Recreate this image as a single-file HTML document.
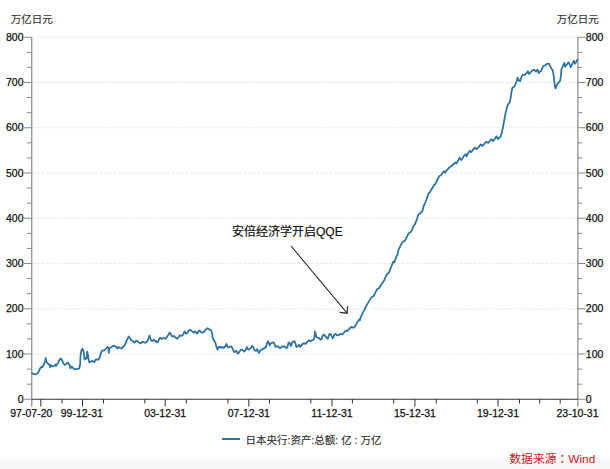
<!DOCTYPE html>
<html><head><meta charset="utf-8"><style>
html,body{margin:0;padding:0;background:#fff;}
body{width:610px;height:469px;overflow:hidden;position:relative;}
.bg{position:absolute;left:0;top:0;width:610px;height:469px;background:linear-gradient(to bottom,#fff 0,#fff 455px,#fafafa 457.5px,#f7f7f7 469px);}
svg{position:absolute;left:0;top:0;}
.ax{font-family:"Liberation Sans", "Noto Sans CJK SC", sans-serif;font-size:10.5px;fill:#111;stroke:#111;stroke-width:0.25px;}
.ttl{font-family:"Liberation Sans", "Noto Sans CJK SC", sans-serif;font-size:10.5px;fill:#333;stroke:#333;stroke-width:0.15px;}
.ann{font-family:"Liberation Sans", "Noto Sans CJK SC", sans-serif;font-size:12px;fill:#111;stroke:#111;stroke-width:0.2px;}
.leg{font-family:"Liberation Sans", "Noto Sans CJK SC", sans-serif;font-size:10.5px;fill:#2a2a2a;stroke:#2a2a2a;stroke-width:0.12px;}
.src{font-family:"Liberation Sans", "Noto Sans CJK SC", sans-serif;font-size:11.8px;fill:#c8161e;}
.tc{font-family:"Noto Sans CJK TC", sans-serif;}
</style></head><body><div class="bg"></div>
<svg width="610" height="469" viewBox="0 0 610 469">
<line x1="32.25" y1="354.00" x2="577.4" y2="354.00" stroke="#e8e8e8" stroke-width="1" stroke-dasharray="3 1.5"/>
<line x1="32.25" y1="308.75" x2="577.4" y2="308.75" stroke="#e8e8e8" stroke-width="1" stroke-dasharray="3 1.5"/>
<line x1="32.25" y1="263.50" x2="577.4" y2="263.50" stroke="#e8e8e8" stroke-width="1" stroke-dasharray="3 1.5"/>
<line x1="32.25" y1="218.25" x2="577.4" y2="218.25" stroke="#e8e8e8" stroke-width="1" stroke-dasharray="3 1.5"/>
<line x1="32.25" y1="173.00" x2="577.4" y2="173.00" stroke="#e8e8e8" stroke-width="1" stroke-dasharray="3 1.5"/>
<line x1="32.25" y1="127.75" x2="577.4" y2="127.75" stroke="#e8e8e8" stroke-width="1" stroke-dasharray="3 1.5"/>
<line x1="32.25" y1="82.50" x2="577.4" y2="82.50" stroke="#e8e8e8" stroke-width="1" stroke-dasharray="3 1.5"/>
<line x1="32.25" y1="37.25" x2="577.4" y2="37.25" stroke="#e8e8e8" stroke-width="1" stroke-dasharray="3 1.5"/>
<line x1="31.75" y1="37.25" x2="31.75" y2="406.5" stroke="#888" stroke-width="1.2"/>
<line x1="577.9" y1="37.25" x2="577.9" y2="406.5" stroke="#888" stroke-width="1.2"/>
<line x1="24" y1="399.25" x2="31.75" y2="399.25" stroke="#888" stroke-width="1"/>
<line x1="577.9" y1="399.25" x2="585.5" y2="399.25" stroke="#888" stroke-width="1"/>
<line x1="27" y1="384.17" x2="31.75" y2="384.17" stroke="#888" stroke-width="1"/>
<line x1="577.9" y1="384.17" x2="582.3" y2="384.17" stroke="#888" stroke-width="1"/>
<line x1="27" y1="369.08" x2="31.75" y2="369.08" stroke="#888" stroke-width="1"/>
<line x1="577.9" y1="369.08" x2="582.3" y2="369.08" stroke="#888" stroke-width="1"/>
<line x1="24" y1="354.00" x2="31.75" y2="354.00" stroke="#888" stroke-width="1"/>
<line x1="577.9" y1="354.00" x2="585.5" y2="354.00" stroke="#888" stroke-width="1"/>
<line x1="27" y1="338.92" x2="31.75" y2="338.92" stroke="#888" stroke-width="1"/>
<line x1="577.9" y1="338.92" x2="582.3" y2="338.92" stroke="#888" stroke-width="1"/>
<line x1="27" y1="323.83" x2="31.75" y2="323.83" stroke="#888" stroke-width="1"/>
<line x1="577.9" y1="323.83" x2="582.3" y2="323.83" stroke="#888" stroke-width="1"/>
<line x1="24" y1="308.75" x2="31.75" y2="308.75" stroke="#888" stroke-width="1"/>
<line x1="577.9" y1="308.75" x2="585.5" y2="308.75" stroke="#888" stroke-width="1"/>
<line x1="27" y1="293.67" x2="31.75" y2="293.67" stroke="#888" stroke-width="1"/>
<line x1="577.9" y1="293.67" x2="582.3" y2="293.67" stroke="#888" stroke-width="1"/>
<line x1="27" y1="278.58" x2="31.75" y2="278.58" stroke="#888" stroke-width="1"/>
<line x1="577.9" y1="278.58" x2="582.3" y2="278.58" stroke="#888" stroke-width="1"/>
<line x1="24" y1="263.50" x2="31.75" y2="263.50" stroke="#888" stroke-width="1"/>
<line x1="577.9" y1="263.50" x2="585.5" y2="263.50" stroke="#888" stroke-width="1"/>
<line x1="27" y1="248.42" x2="31.75" y2="248.42" stroke="#888" stroke-width="1"/>
<line x1="577.9" y1="248.42" x2="582.3" y2="248.42" stroke="#888" stroke-width="1"/>
<line x1="27" y1="233.33" x2="31.75" y2="233.33" stroke="#888" stroke-width="1"/>
<line x1="577.9" y1="233.33" x2="582.3" y2="233.33" stroke="#888" stroke-width="1"/>
<line x1="24" y1="218.25" x2="31.75" y2="218.25" stroke="#888" stroke-width="1"/>
<line x1="577.9" y1="218.25" x2="585.5" y2="218.25" stroke="#888" stroke-width="1"/>
<line x1="27" y1="203.17" x2="31.75" y2="203.17" stroke="#888" stroke-width="1"/>
<line x1="577.9" y1="203.17" x2="582.3" y2="203.17" stroke="#888" stroke-width="1"/>
<line x1="27" y1="188.08" x2="31.75" y2="188.08" stroke="#888" stroke-width="1"/>
<line x1="577.9" y1="188.08" x2="582.3" y2="188.08" stroke="#888" stroke-width="1"/>
<line x1="24" y1="173.00" x2="31.75" y2="173.00" stroke="#888" stroke-width="1"/>
<line x1="577.9" y1="173.00" x2="585.5" y2="173.00" stroke="#888" stroke-width="1"/>
<line x1="27" y1="157.92" x2="31.75" y2="157.92" stroke="#888" stroke-width="1"/>
<line x1="577.9" y1="157.92" x2="582.3" y2="157.92" stroke="#888" stroke-width="1"/>
<line x1="27" y1="142.83" x2="31.75" y2="142.83" stroke="#888" stroke-width="1"/>
<line x1="577.9" y1="142.83" x2="582.3" y2="142.83" stroke="#888" stroke-width="1"/>
<line x1="24" y1="127.75" x2="31.75" y2="127.75" stroke="#888" stroke-width="1"/>
<line x1="577.9" y1="127.75" x2="585.5" y2="127.75" stroke="#888" stroke-width="1"/>
<line x1="27" y1="112.67" x2="31.75" y2="112.67" stroke="#888" stroke-width="1"/>
<line x1="577.9" y1="112.67" x2="582.3" y2="112.67" stroke="#888" stroke-width="1"/>
<line x1="27" y1="97.58" x2="31.75" y2="97.58" stroke="#888" stroke-width="1"/>
<line x1="577.9" y1="97.58" x2="582.3" y2="97.58" stroke="#888" stroke-width="1"/>
<line x1="24" y1="82.50" x2="31.75" y2="82.50" stroke="#888" stroke-width="1"/>
<line x1="577.9" y1="82.50" x2="585.5" y2="82.50" stroke="#888" stroke-width="1"/>
<line x1="27" y1="67.42" x2="31.75" y2="67.42" stroke="#888" stroke-width="1"/>
<line x1="577.9" y1="67.42" x2="582.3" y2="67.42" stroke="#888" stroke-width="1"/>
<line x1="27" y1="52.33" x2="31.75" y2="52.33" stroke="#888" stroke-width="1"/>
<line x1="577.9" y1="52.33" x2="582.3" y2="52.33" stroke="#888" stroke-width="1"/>
<line x1="24" y1="37.25" x2="31.75" y2="37.25" stroke="#888" stroke-width="1"/>
<line x1="577.9" y1="37.25" x2="585.5" y2="37.25" stroke="#888" stroke-width="1"/>
<text x="23.5" y="402.95" text-anchor="end" class="ax">0</text>
<text x="585.8" y="402.95" text-anchor="start" class="ax">0</text>
<text x="23.5" y="357.70" text-anchor="end" class="ax">100</text>
<text x="585.8" y="357.70" text-anchor="start" class="ax">100</text>
<text x="23.5" y="312.45" text-anchor="end" class="ax">200</text>
<text x="585.8" y="312.45" text-anchor="start" class="ax">200</text>
<text x="23.5" y="267.20" text-anchor="end" class="ax">300</text>
<text x="585.8" y="267.20" text-anchor="start" class="ax">300</text>
<text x="23.5" y="221.95" text-anchor="end" class="ax">400</text>
<text x="585.8" y="221.95" text-anchor="start" class="ax">400</text>
<text x="23.5" y="176.70" text-anchor="end" class="ax">500</text>
<text x="585.8" y="176.70" text-anchor="start" class="ax">500</text>
<text x="23.5" y="131.45" text-anchor="end" class="ax">600</text>
<text x="585.8" y="131.45" text-anchor="start" class="ax">600</text>
<text x="23.5" y="86.20" text-anchor="end" class="ax">700</text>
<text x="585.8" y="86.20" text-anchor="start" class="ax">700</text>
<text x="23.5" y="40.95" text-anchor="end" class="ax">800</text>
<text x="585.8" y="40.95" text-anchor="start" class="ax">800</text>
<line x1="31.75" y1="399.25" x2="577.9" y2="399.25" stroke="#333" stroke-width="1"/>
<line x1="40.8" y1="399.25" x2="40.8" y2="406.5" stroke="#333" stroke-width="1"/>
<line x1="82.5" y1="399.25" x2="82.5" y2="406.5" stroke="#333" stroke-width="1"/>
<line x1="165.2" y1="399.25" x2="165.2" y2="406.5" stroke="#333" stroke-width="1"/>
<line x1="248.8" y1="399.25" x2="248.8" y2="406.5" stroke="#333" stroke-width="1"/>
<line x1="332.0" y1="399.25" x2="332.0" y2="406.5" stroke="#333" stroke-width="1"/>
<line x1="414.9" y1="399.25" x2="414.9" y2="406.5" stroke="#333" stroke-width="1"/>
<line x1="498.0" y1="399.25" x2="498.0" y2="406.5" stroke="#333" stroke-width="1"/>
<line x1="62" y1="399.25" x2="62" y2="403.5" stroke="#333" stroke-width="1"/>
<line x1="103.5" y1="399.25" x2="103.5" y2="403.5" stroke="#333" stroke-width="1"/>
<line x1="144.8" y1="399.25" x2="144.8" y2="403.5" stroke="#333" stroke-width="1"/>
<line x1="186.4" y1="399.25" x2="186.4" y2="403.5" stroke="#333" stroke-width="1"/>
<line x1="227.9" y1="399.25" x2="227.9" y2="403.5" stroke="#333" stroke-width="1"/>
<line x1="269.5" y1="399.25" x2="269.5" y2="403.5" stroke="#333" stroke-width="1"/>
<line x1="310.8" y1="399.25" x2="310.8" y2="403.5" stroke="#333" stroke-width="1"/>
<line x1="352.4" y1="399.25" x2="352.4" y2="403.5" stroke="#333" stroke-width="1"/>
<line x1="393.7" y1="399.25" x2="393.7" y2="403.5" stroke="#333" stroke-width="1"/>
<line x1="436.3" y1="399.25" x2="436.3" y2="403.5" stroke="#333" stroke-width="1"/>
<line x1="477.4" y1="399.25" x2="477.4" y2="403.5" stroke="#333" stroke-width="1"/>
<line x1="519.5" y1="399.25" x2="519.5" y2="403.5" stroke="#333" stroke-width="1"/>
<line x1="539.6" y1="399.25" x2="539.6" y2="403.5" stroke="#333" stroke-width="1"/>
<line x1="560.2" y1="399.25" x2="560.2" y2="403.5" stroke="#333" stroke-width="1"/>
<text x="31.3" y="416.7" text-anchor="middle" class="ax">97-07-20</text>
<text x="81.8" y="416.7" text-anchor="middle" class="ax">99-12-31</text>
<text x="165.2" y="416.7" text-anchor="middle" class="ax">03-12-31</text>
<text x="248.8" y="416.7" text-anchor="middle" class="ax">07-12-31</text>
<text x="332.0" y="416.7" text-anchor="middle" class="ax">11-12-31</text>
<text x="414.9" y="416.7" text-anchor="middle" class="ax">15-12-31</text>
<text x="498.0" y="416.7" text-anchor="middle" class="ax">19-12-31</text>
<text x="577.5" y="416.7" text-anchor="middle" class="ax">23-10-31</text>
<path d="M32.0,373.3 L33.4,373.8 L34.9,374.3 L36.4,374.1 L37.4,373.3 L38.4,372.2 L39.3,370.4 L40.3,367.9 L41.3,367.0 L42.3,367.4 L43.3,365.5 L44.3,363.5 L45.2,361.0 L45.7,357.8 L46.2,361.0 L47.2,363.0 L48.7,364.0 L49.7,365.5 L50.2,367.4 L50.6,365.0 L51.6,366.0 L53.1,366.3 L54.6,365.5 L55.6,364.5 L56.1,366.0 L57.0,364.0 L58.0,363.5 L59.0,360.6 L60.5,358.6 L61.5,359.1 L62.4,361.0 L63.4,363.5 L64.9,364.9 L65.9,364.5 L66.9,363.0 L67.9,362.5 L68.8,364.0 L69.8,365.5 L70.5,368.4 L71.3,366.5 L72.3,367.0 L73.8,369.0 L74.7,369.4 L76.2,368.9 L78.2,368.9 L79.2,368.4 L80.1,364.5 L80.6,354.7 L81.6,349.7 L82.6,348.8 L83.6,351.7 L84.6,359.6 L85.6,358.1 L86.5,358.6 L87.2,351.7 L88.1,355.4 L88.9,361.8 L89.9,362.3 L91.4,361.1 L92.4,360.8 L93.4,361.8 L94.3,362.1 L95.3,359.8 L96.8,359.3 L98.3,359.8 L99.7,357.4 L100.7,353.9 L101.7,351.0 L102.7,350.5 L103.7,350.7 L105.2,349.5 L106.6,348.0 L107.6,346.7 L108.4,348.0 L108.8,352.9 L109.2,348.5 L110.1,348.0 L111.5,347.0 L113.0,346.0 L114.5,346.0 L116.0,346.5 L117.3,348.5 L118.4,347.0 L119.9,348.0 L121.4,348.5 L122.9,347.0 L124.3,345.6 L125.3,344.1 L126.3,341.6 L127.8,338.2 L128.8,336.5 L129.7,337.5 L131.2,340.2 L132.7,341.1 L134.2,342.6 L135.1,342.1 L136.3,340.6 L137.6,341.1 L139.1,342.6 L140.1,343.4 L141.5,342.6 L143.0,341.7 L144.4,342.5 L145.9,342.7 L147.4,341.1 L148.4,338.6 L149.5,335.5 L150.3,338.1 L151.3,340.8 L152.8,340.8 L153.8,339.6 L154.7,340.8 L155.5,341.5 L156.2,341.1 L157.2,342.3 L158.2,341.5 L159.2,338.6 L160.2,337.8 L161.6,339.1 L163.1,338.1 L164.4,338.1 L165.4,338.8 L166.5,337.6 L167.5,336.1 L168.5,334.7 L169.7,332.5 L170.5,333.7 L171.5,335.6 L172.4,336.6 L173.9,336.1 L174.9,336.8 L176.4,338.4 L177.4,338.6 L178.5,337.4 L179.8,335.2 L180.8,335.8 L182.3,335.6 L183.3,334.2 L184.7,331.5 L185.7,333.2 L186.7,333.7 L187.7,332.5 L188.7,330.5 L190.1,329.7 L191.1,330.7 L192.6,331.9 L194.1,332.5 L195.1,331.5 L196.0,332.2 L197.0,333.5 L198.0,332.5 L198.9,330.7 L199.9,330.7 L200.9,332.2 L202.4,332.7 L203.7,332.2 L204.8,330.7 L206.0,329.3 L207.3,328.3 L208.3,328.6 L209.3,329.7 L209.9,329.6 L210.7,330.0 L211.5,331.2 L212.2,334.2 L212.7,337.6 L213.7,340.1 L214.7,341.4 L215.6,343.5 L216.6,347.4 L217.6,349.6 L218.6,347.0 L220.1,347.0 L221.4,347.9 L222.5,347.0 L223.5,347.9 L224.5,347.4 L225.7,345.5 L226.5,344.0 L227.3,346.5 L228.4,347.4 L229.9,346.7 L231.4,346.3 L232.4,348.4 L233.5,350.9 L234.3,352.2 L235.3,351.4 L236.3,350.6 L237.3,352.9 L238.3,353.5 L239.2,351.9 L240.2,350.4 L241.7,349.4 L243.2,350.6 L244.2,351.6 L245.1,350.4 L246.1,348.9 L246.9,347.0 L247.6,348.9 L248.6,349.6 L249.6,348.9 L250.6,348.2 L251.5,347.0 L252.3,345.9 L253.1,346.8 L253.9,348.9 L254.9,350.4 L256.1,350.9 L257.1,349.2 L258.1,351.4 L258.8,352.9 L259.8,351.4 L260.8,349.9 L262.3,349.4 L263.8,348.4 L264.7,347.4 L265.5,347.9 L266.7,344.5 L267.9,341.1 L268.7,342.5 L269.7,345.5 L270.6,343.5 L272.1,342.7 L273.6,342.5 L274.6,344.5 L275.6,347.0 L277.0,346.3 L278.5,346.5 L280.0,348.4 L281.0,347.4 L282.3,346.3 L283.4,346.7 L284.9,346.5 L286.4,348.2 L287.4,347.0 L288.3,343.5 L289.3,342.5 L290.3,344.5 L291.1,346.0 L292.1,342.5 L293.3,341.5 L294.7,341.4 L295.7,344.5 L296.4,347.0 L297.7,346.3 L299.2,345.0 L300.3,347.0 L301.6,345.0 L303.1,343.5 L304.6,343.3 L305.9,343.8 L307.0,342.3 L308.4,340.8 L309.4,340.3 L310.4,341.3 L311.9,340.3 L313.4,339.8 L314.3,338.3 L315.0,331.5 L315.6,333.4 L316.3,336.9 L317.3,337.6 L318.8,337.9 L319.7,338.8 L320.7,339.8 L321.7,338.8 L322.7,335.9 L323.7,334.4 L324.7,335.4 L325.6,336.4 L326.8,337.9 L327.8,338.8 L328.6,335.9 L329.6,333.9 L330.8,334.4 L331.7,336.4 L332.7,338.3 L333.7,336.4 L334.5,334.4 L335.7,333.9 L337.0,335.4 L338.4,335.2 L339.9,334.4 L340.9,333.9 L342.4,334.4 L343.8,332.9 L345.3,331.0 L346.3,330.5 L347.3,331.0 L348.3,330.0 L349.7,328.5 L350.7,327.5 L351.7,326.7 L353.2,327.7 L354.2,327.5 L355.1,325.8 L356.1,324.6 L357.1,322.6 L358.1,321.1 L359.1,319.5 L359.9,320.2 L360.6,317.7 L361.5,315.7 L362.4,313.6 L364.0,310.4 L366.4,305.6 L368.8,301.6 L371.2,297.6 L373.6,296.0 L375.2,292.8 L376.8,289.6 L379.2,288.0 L381.6,284.0 L384.0,280.8 L385.6,276.8 L387.2,273.9 L388.8,272.8 L390.4,268.8 L392.0,264.8 L393.3,261.6 L394.4,262.1 L396.0,257.6 L397.6,254.4 L398.6,249.6 L401.3,244.2 L403.1,241.5 L405.0,240.6 L406.8,237.0 L408.6,233.3 L411.3,231.5 L413.1,227.0 L414.9,224.3 L416.7,219.8 L418.5,214.3 L420.3,213.4 L422.5,210.7 L423.6,206.2 L424.9,203.5 L426.7,199.0 L428.5,193.5 L430.3,191.7 L431.2,189.5 L432.2,188.5 L433.7,185.5 L435.2,184.0 L436.7,181.0 L438.2,178.0 L439.7,175.8 L441.2,175.1 L442.7,172.5 L444.2,171.3 L445.2,172.8 L446.4,170.6 L447.9,169.1 L449.4,167.3 L450.9,166.5 L452.4,165.0 L453.9,164.1 L455.4,162.4 L456.6,163.5 L458.1,160.6 L459.6,157.6 L461.1,160.1 L462.6,158.2 L464.1,155.6 L465.6,154.1 L466.6,156.4 L468.1,153.4 L469.6,150.7 L471.1,152.2 L473.0,149.7 L474.8,147.7 L476.6,149.2 L478.6,147.1 L480.8,144.4 L482.6,145.9 L484.5,143.7 L486.5,141.7 L488.3,142.9 L489.8,141.1 L491.6,139.2 L493.1,141.1 L494.5,139.2 L496.5,136.2 L498.0,139.2 L499.5,137.7 L500.7,136.5 L502.0,132.0 L503.1,126.6 L504.3,120.2 L505.6,113.0 L507.1,106.6 L508.5,103.9 L509.8,102.1 L510.7,97.6 L511.6,91.2 L512.5,87.6 L514.3,86.7 L515.2,84.9 L516.7,81.3 L517.6,77.6 L518.8,80.4 L520.1,81.3 L521.6,76.7 L523.0,74.6 L524.8,74.9 L526.6,73.1 L527.9,71.3 L529.2,74.0 L530.6,72.2 L532.4,70.4 L534.2,69.9 L536.0,71.7 L537.5,69.5 L538.8,73.1 L540.1,71.5 L541.1,70.8 L542.1,68.7 L543.2,66.0 L544.8,65.5 L546.4,64.4 L547.7,63.7 L549.1,63.7 L549.8,65.5 L550.7,67.1 L551.7,69.2 L552.8,70.3 L553.5,74.5 L554.1,79.9 L554.9,86.3 L555.5,88.4 L556.2,86.8 L557.1,84.7 L558.1,83.1 L559.2,81.8 L560.1,80.9 L560.8,76.7 L561.5,69.2 L562.4,67.1 L563.5,64.9 L564.3,62.8 L565.1,66.5 L566.1,65.5 L567.2,63.9 L568.6,62.3 L569.7,64.4 L570.7,67.1 L571.8,64.9 L573.1,62.3 L573.9,60.7 L575.0,63.7 L576.1,62.3 L577.1,60.1 L577.5,59.6" fill="none" stroke="#3174a0" stroke-width="1.8" stroke-linejoin="round" stroke-linecap="round"/>
<text x="232" y="236" class="ann">安倍经济学开启QQE</text>
<line x1="291.2" y1="246.2" x2="347.1" y2="313.2" stroke="#333" stroke-width="1.1"/>
<polyline points="347.6,306.2 347.1,313.2 339.6,312.3" fill="none" stroke="#333" stroke-width="1.3" stroke-linejoin="miter"/>
<text x="10.8" y="22.9" class="ttl">万亿日元</text>
<text x="556.8" y="22.9" class="ttl">万亿日元</text>
<line x1="222" y1="439" x2="240" y2="439" stroke="#3174a0" stroke-width="2"/>
<text x="245.5" y="443.5" class="leg">日本央行:资产:总额: 亿 : 万亿</text>
<text x="509.3" y="462.8" class="src">数据来源<tspan class="tc">：</tspan>Wind</text>
</svg></body></html>
